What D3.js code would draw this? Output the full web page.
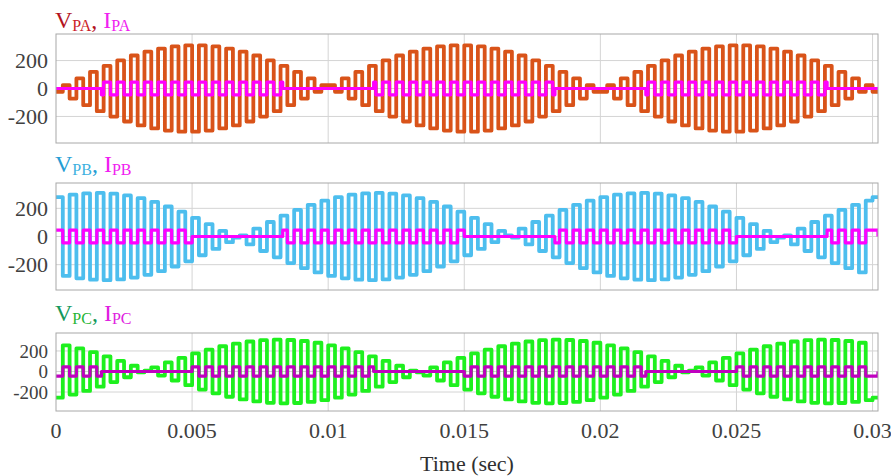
<!DOCTYPE html>
<html>
<head>
<meta charset="utf-8">
<script src="https://cdn.jsdelivr.net/npm/d3@7"></script>
<style>
body { margin: 0; background: #fff; }
text { font-family: "Liberation Serif", "Times New Roman", serif; }
</style>
</head>
<body>
<script>
// three stacked panels: pulse voltage + current of legs A, B, C

// x axis (time, s)
var timeTicks = [0, 0.005, 0.01, 0.015, 0.02, 0.025, 0.03];
var timeTickLabels = ["0", "0.005", "0.01", "0.015", "0.02", "0.025", "0.03"];
var yTicks = [-200, 0, 200];
var yTickLabels = ["-200", "0", "200"];

// carrier period (60 pulses in 0.03 s)
var carrierPeriod = 0.0005;

// pulse amplitude (signed) per carrier period, read from the envelopes
var vPA = [24, 72, 119, 162, 201, 236, 264, 286, 301, 309, 309, 301, 286, 264, 236, 201, 162, 119, 72, 24,
    -24, -72, -119, -162, -201, -236, -264, -286, -301, -309, -309, -301, -286, -264, -236, -201, -162, -119, -72, -24,
    24, 72, 119, 162, 201, 236, 264, 286, 301, 309, 309, 301, 286, 264, 236, 201, 162, 119, 72, 24];
var vPB = [-280, -297, -307, -310, -305, -292, -272, -246, -213, -176, -133, -88, -40, 8, 56, 103, 148, 189, 225, 255,
    280, 297, 307, 310, 305, 292, 272, 246, 213, 176, 133, 88, 40, -8, -56, -103, -148, -189, -225, -255,
    -280, -297, -307, -310, -305, -292, -272, -246, -213, -176, -133, -88, -40, 8, 56, 103, 148, 189, 225, 255];
var vPC = [255, 225, 189, 148, 103, 56, 8, -40, -88, -133, -176, -213, -246, -272, -292, -305, -310, -307, -297, -280,
    -255, -225, -189, -148, -103, -56, -8, 40, 88, 133, 176, 213, 246, 272, 292, 305, 310, 307, 297, 280,
    255, 225, 189, 148, 103, 56, 8, -40, -88, -133, -176, -213, -246, -272, -292, -305, -310, -307, -297, -280];

// current: square pulses of this height, only inside the conduction windows
var iAmp = 45;
var iOnPA = [[0.00167, 0.00833], [0.01167, 0.01833], [0.02167, 0.02833]];
var iOnPB = [[0, 0.005], [0.00833, 0.015], [0.01833, 0.025], [0.02833, 0.0302]];
var iOnPC = [[0, 0.00167], [0.005, 0.01167], [0.015, 0.02167], [0.025, 0.0302]];

var panelNames = ["PA", "PB", "PC"];

var width = 891, height = 476;
var left = 56, right = 878;
var xMax = 0.0302;

var panels = [
    { name: panelNames[0], v: vPA, on: iOnPA, top: 34, bottom: 143, dom: [-390, 390], base: 28, fs: 22,
      vColor: "#d95319", iColor: "#ff00ff", tV: "#b3141e", tVs: "#cc2228", tI: "#f020f0" },
    { name: panelNames[1], v: vPB, on: iOnPB, top: 183, bottom: 290, dom: [-380, 380], base: 172, fs: 22,
      vColor: "#4dbeee", iColor: "#ff00ff", tV: "#259dd4", tVs: "#3cb0e0", tI: "#f020f0" },
    { name: panelNames[2], v: vPC, on: iOnPC, top: 333, bottom: 411, dom: [-385, 375], base: 321, fs: 19,
      vColor: "#1ef01e", iColor: "#c000c0", tV: "#14995c", tVs: "#1fb535", tI: "#e020e0" }
];

var svg = d3.select("body").append("svg")
    .attr("width", width)
    .attr("height", height);

var x = d3.scaleLinear()
    .domain([0, xMax])
    .range([left, right]);

var line = d3.line()
    .x(function(d) { return x(d[0]); })
    .curve(d3.curveStepAfter);

function voltagePoints(v) {
    var pts = [];
    v.forEach(function(a, k) {
        pts.push([k * carrierPeriod, -a]);
        pts.push([k * carrierPeriod + carrierPeriod / 2, a]);
    });
    var n = v.length;
    pts.push([n * carrierPeriod, -v[0]]);
    pts.push([xMax, -v[0]]);
    return pts;
}

function currentPoints(v, on) {
    // breakpoints: every half carrier period plus window edges
    var ts = [];
    for (var h = 0; h <= v.length * 2; h++) ts.push(h * carrierPeriod / 2);
    on.forEach(function(w) { ts.push(w[0], w[1]); });
    ts.push(xMax);
    ts = Array.from(new Set(ts.map(function(t) { return +t.toFixed(6); }))).sort(d3.ascending);
    return ts.map(function(t) {
        var inside = on.some(function(w) { return t >= w[0] && t < w[1]; });
        if (!inside) return [t, 0];
        var k = Math.min(v.length - 1, Math.floor(t / carrierPeriod + 1e-9));
        var second = (t - k * carrierPeriod) >= carrierPeriod / 2 - 1e-9;
        var s = (v[k] >= 0 ? 1 : -1) * (second ? 1 : -1);
        return [t, s * iAmp];
    });
}

panels.forEach(function(p, i) {
    var y = d3.scaleLinear()
        .domain(p.dom)
        .range([p.bottom, p.top]);
    line.y(function(d) { return y(d[1]); });

    var g = svg.append("g");

    g.append("defs").append("clipPath")
        .attr("id", "clip" + i)
        .append("rect")
        .attr("x", left)
        .attr("y", p.top)
        .attr("width", right - left)
        .attr("height", p.bottom - p.top);

    // grid
    g.selectAll(".gx")
        .data(timeTicks.slice(1))
        .enter().append("line")
        .attr("x1", function(d) { return x(d); })
        .attr("x2", function(d) { return x(d); })
        .attr("y1", p.top)
        .attr("y2", p.bottom)
        .attr("stroke", "#d4d4d4")
        .attr("stroke-width", 1);
    g.selectAll(".gy")
        .data(yTicks)
        .enter().append("line")
        .attr("x1", left)
        .attr("x2", right)
        .attr("y1", function(d) { return y(d); })
        .attr("y2", function(d) { return y(d); })
        .attr("stroke", "#d4d4d4")
        .attr("stroke-width", 1);

    // y tick labels
    g.selectAll(".yl")
        .data(yTicks)
        .enter().append("text")
        .attr("x", 48)
        .attr("y", function(d) { return y(d); })
        .attr("dy", ".35em")
        .style("text-anchor", "end")
        .style("font-size", p.fs + "px")
        .style("fill", "#404040")
        .text(function(d, j) { return yTickLabels[j]; });

    var plot = g.append("g").attr("clip-path", "url(#clip" + i + ")");

    plot.append("path")
        .attr("d", line(voltagePoints(p.v)))
        .attr("fill", "none")
        .attr("stroke", p.vColor)
        .attr("stroke-width", 3.8)
        .attr("stroke-linejoin", "round");

    plot.append("path")
        .attr("d", line(currentPoints(p.v, p.on)))
        .attr("fill", "none")
        .attr("stroke", p.iColor)
        .attr("stroke-width", 3.2)
        .attr("stroke-linejoin", "round");

    // frame
    g.append("rect")
        .attr("x", left)
        .attr("y", p.top)
        .attr("width", right - left)
        .attr("height", p.bottom - p.top)
        .attr("fill", "none")
        .attr("stroke", "#a8a8a8")
        .attr("stroke-width", 1);

    // title  V_xx, I_xx
    var t = g.append("text")
        .attr("x", 55)
        .attr("y", p.base)
        .style("font-size", "24px");
    t.append("tspan").style("fill", p.tV).text("V");
    t.append("tspan").style("fill", p.tVs).style("font-size", "16px").attr("dy", 3).text(p.name);
    t.append("tspan").style("fill", p.tV).attr("dy", -3).text(", ");
    t.append("tspan").style("fill", p.tI).text("I");
    t.append("tspan").style("fill", p.tI).style("font-size", "16px").attr("dy", 3).text(p.name);
});

// x tick labels under the last panel
svg.selectAll(".xl")
    .data(timeTicks)
    .enter().append("text")
    .attr("x", function(d) { return x(d); })
    .attr("y", 438)
    .style("text-anchor", "middle")
    .style("font-size", "22px")
    .style("fill", "#404040")
    .text(function(d, j) { return timeTickLabels[j]; });

svg.append("text")
    .attr("x", (left + right) / 2)
    .attr("y", 471)
    .style("text-anchor", "middle")
    .style("font-size", "22px")
    .style("fill", "#303030")
    .text("Time (sec)");
</script>
</body>
</html>
